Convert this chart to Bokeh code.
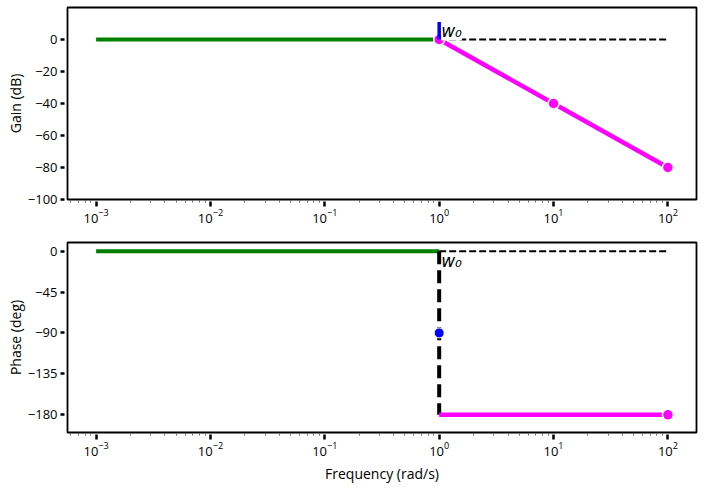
from bokeh.plotting import figure
from bokeh.layouts import column
from bokeh.models import FixedTicker, LogTickFormatter
from bokeh.core.properties import value
from bokeh.embed import file_html
from bokeh.resources import INLINE

# ---- data ----
w_low = [1e-3, 1.0]
gain_low = [0, 0]
w_ref = [1.0, 100.0]
gain_ref = [0, 0]
w_high = [1.0, 10.0, 100.0]
gain_high = [0, -40, -80]
w_peak = [1.0, 1.0]
gain_peak = [0, 11]

phase_low = [0, 0]
phase_ref = [0, 0]
w_step = [1.0, 1.0]
phase_step = [0, -180]
w_phase_high = [1.0, 100.0]
phase_high = [-180, -180]
w_mid = [1.0]
phase_mid = [-90]
w_end = [100.0]
phase_end = [-180]

w0 = [1.0]
w0_label = ["w₀"]

x_major = [1e-3, 1e-2, 1e-1, 1e0, 1e1, 1e2]
x_minor = [m * 10.0 ** e for e in range(-4, 3) for m in range(2, 10)]
gain_ticks = [0, -20, -40, -60, -80, -100]
phase_ticks = [0, -45, -90, -135, -180]

FONT = "Open Sans"
XR = (10 ** -3.25, 10 ** 2.25)


def style(p, yticks, ylabel):
    p.outline_line_color = "black"
    p.outline_line_width = 1.8
    p.xgrid.visible = False
    p.ygrid.visible = False
    p.xaxis.ticker = FixedTicker(ticks=x_major, minor_ticks=x_minor)
    p.xaxis.formatter = LogTickFormatter()
    p.yaxis.ticker = FixedTicker(ticks=yticks)
    for ax in (p.xaxis[0], p.yaxis[0]):
        ax.axis_line_color = None
        ax.major_tick_line_color = "black"
        ax.major_tick_line_width = 2.5
        ax.major_label_text_font = FONT
        ax.major_label_text_font_size = "13px"
        ax.major_label_text_color = "black"
        ax.axis_label_text_font = FONT
        ax.axis_label_text_font_size = "14px"
        ax.axis_label_text_font_style = "normal"
        ax.axis_label_text_color = "black"
    p.xaxis.major_tick_in = -2
    p.xaxis.major_tick_out = 7
    p.xaxis.minor_tick_in = -1
    p.xaxis.minor_tick_out = 3
    p.xaxis.minor_tick_line_color = "#666666"
    p.xaxis.major_label_standoff = 2
    p.yaxis.major_tick_in = -3
    p.yaxis.major_tick_out = 7
    p.yaxis.minor_tick_line_color = None
    p.yaxis.major_label_standoff = 3
    p.yaxis.axis_label = ylabel
    p.yaxis.axis_label_standoff = 0


p1 = figure(width=704, height=234, x_axis_type="log", x_range=XR, y_range=(-100, 20),
            output_backend="svg", toolbar_location=None,
            min_border_left=67, min_border_right=8, min_border_top=7, min_border_bottom=35)
style(p1, gain_ticks, "Gain (dB)")
p1.line(w_low, gain_low, line_color="green", line_width=4)
p1.line(w_ref, gain_ref, line_color="black", line_width=2, line_dash="7 3")
p1.line(w_high, gain_high, line_color="magenta", line_width=4.5)
p1.scatter(w_high, gain_high, size=11, fill_color="magenta", line_color="white", line_width=1.5)
p1.line(w_peak, gain_peak, line_color="blue", line_width=3.5)
p1.text(w0, [0], text=w0_label, x_offset=2, y_offset=1, text_baseline="bottom",
        text_align="left", text_font=value("DejaVu Sans"), text_font_style="italic",
        text_font_size="17px", text_color="black", background_fill_color="white")

p2 = figure(width=704, height=254, x_axis_type="log", x_range=XR, y_range=(-199.5, 9.5),
            output_backend="svg", toolbar_location=None,
            min_border_left=67, min_border_right=8, min_border_top=8, min_border_bottom=56)
style(p2, phase_ticks, "Phase (deg)")
p2.xaxis.axis_label = "Frequency (rad/s)"
p2.xaxis.axis_label_standoff = 5
p2.line(w_low, phase_low, line_color="green", line_width=4)
p2.line(w_ref, phase_ref, line_color="black", line_width=2, line_dash="7 3")
p2.line(w_step, phase_step, line_color="black", line_width=4, line_dash="13 6")
p2.line(w_phase_high, phase_high, line_color="magenta", line_width=4.5)
p2.scatter(w_mid, phase_mid, size=10, fill_color="blue", line_color="white", line_width=1)
p2.scatter(w_end, phase_end, size=11, fill_color="magenta", line_color="white", line_width=1.5)
p2.text(w0, [0], text=w0_label, x_offset=2, y_offset=0, text_baseline="top",
        text_align="left", text_font=value("DejaVu Sans"), text_font_style="italic",
        text_font_size="17px", text_color="black")

layout = column(p1, p2, spacing=0)
open("out.html", "w").write(file_html(layout, INLINE))
